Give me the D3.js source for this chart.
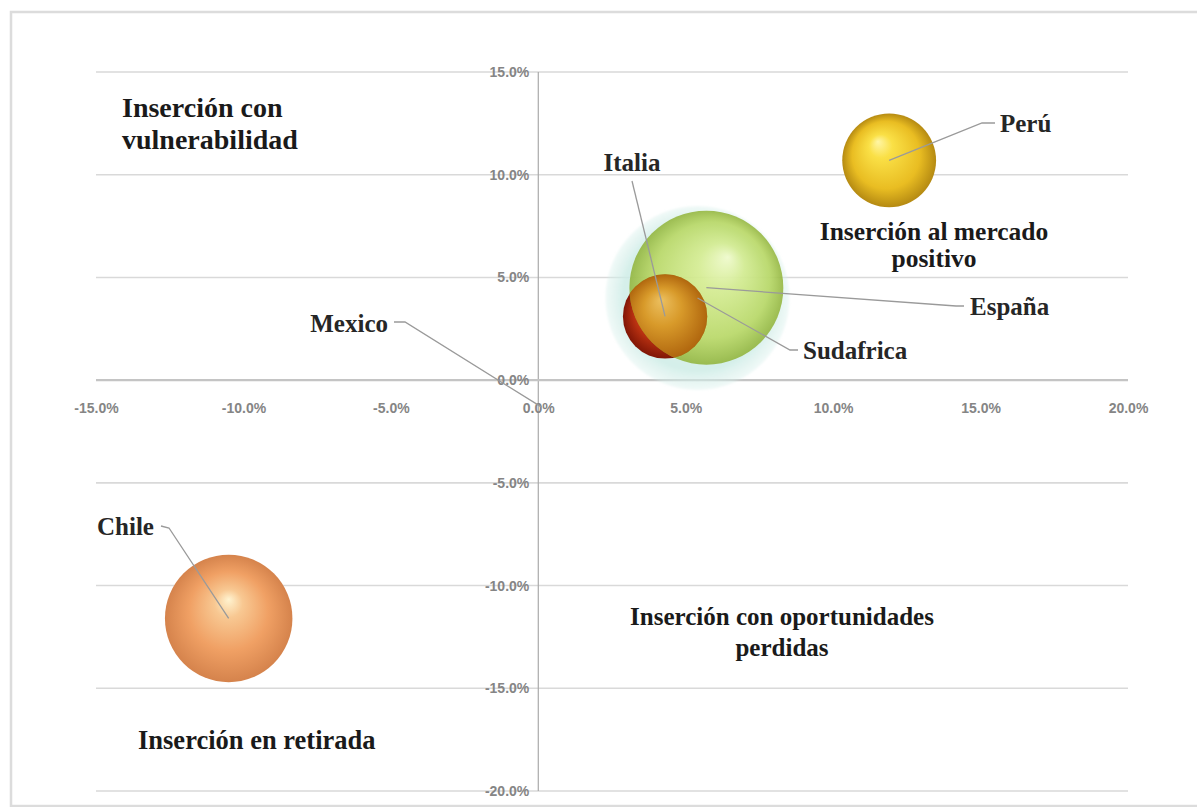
<!DOCTYPE html>
<html>
<head>
<meta charset="utf-8">
<script src="https://cdn.jsdelivr.net/npm/d3@7"></script>
<style>
  body { margin: 0; background: #ffffff; }
  svg { display: block; }
</style>
</head>
<body>
<svg id="chart" width="1197" height="807"></svg>
<script>
// ---- data ----------------------------------------------------------
const countries = ["Sudafrica", "Italia", "España", "Perú", "Chile", "Mexico"];
const xValues   = [5.4, 4.3, 5.7, 11.9, -10.5, 0.1];    // % on horizontal axis
const yValues   = [4.0, 3.1, 4.5, 10.7, -11.6, -1.3];   // % on vertical axis
const sizes     = [100, 21, 70, 26, 48, 0];             // bubble size
const xTicks = [-15, -10, -5, 0, 5, 10, 15, 20];
const yTicks = [15, 10, 5, 0, -5, -10, -15, -20];
const quadrantTitles = [
  ["Inserción con", "vulnerabilidad"],
  ["Inserción al mercado", "positivo"],
  ["Inserción con oportunidades", "perdidas"],
  ["Inserción en retirada"]
];

// ---- layout & style --------------------------------------------------
const W = 1197, H = 807;
const svg = d3.select("#chart");
const x = d3.scaleLinear().domain([-15, 20]).range([96, 1128]);
const y = d3.scaleLinear().domain([-20, 15]).range([791, 72]);
const r = d3.scaleSqrt().domain([0, 100]).range([0, 92]);

const serif = "'Liberation Serif', 'Times New Roman', serif";
const sans = "'Liberation Sans', Arial, sans-serif";

// sphere shading per country
const shading = {
  "Sudafrica": { fx: 0.5, fy: 0.45, stops: [[0, "#e4f5f1", 0.75], [0.8, "#cdece6", 0.85], [1, "#d6efea", 0.35]] },
  "Italia":    { fx: 0.42, fy: 0.32, stops: [[0, "#f07838", 1], [0.55, "#d43e16", 1], [1, "#801606", 1]] },
  "España":    { fx: 0.64, fy: 0.3, stops: [[0, "#f4fcc8", 0.8], [0.3, "#d2ea78", 0.72], [0.75, "#b2d244", 0.72], [1, "#8aae2a", 0.8]] },
  "Perú":      { fx: 0.38, fy: 0.3, stops: [[0, "#fff6a6", 1], [0.25, "#fae046", 1], [0.72, "#e9bd22", 1], [1, "#b58a12", 1]] },
  "Chile":     { fx: 0.5, fy: 0.35, stops: [[0, "#fff3d0", 1], [0.22, "#f8c892", 1], [0.62, "#f0a064", 1], [1, "#d5834c", 1]] }
};
// where the red Italia bubble shows through the translucent green one
const overlapShade = { fx: 0.45, fy: 0.3, stops: [[0, "#ecc060", 1], [0.45, "#d89a2a", 1], [1, "#b0660e", 1]] };

// label placement (pixels), leader start and elbow
const labelLayout = {
  "Perú":      { tx: 1000, ty: 132, anchor: "start",  lx: 995, ly: 123, ex: 982, ey: 123 },
  "Italia":    { tx: 632,  ty: 171, anchor: "middle", lx: 632, ly: 181, ex: 632, ey: 181 },
  "España":    { tx: 970,  ty: 315, anchor: "start",  lx: 964, ly: 306, ex: 956, ey: 306 },
  "Sudafrica": { tx: 803,  ty: 359, anchor: "start",  lx: 798, ly: 350, ex: 790, ey: 350 },
  "Mexico":    { tx: 388,  ty: 332, anchor: "end",    lx: 394, ly: 322, ex: 405, ey: 322 },
  "Chile":     { tx: 97,   ty: 535, anchor: "start",  lx: 161, ly: 526, ex: 169, ey: 528 }
};

const titleLayout = [
  { x: 122, y: 117, anchor: "start",  size: 28, lh: 32 },
  { x: 934, y: 240, anchor: "middle", size: 25.5, lh: 27 },
  { x: 782, y: 625, anchor: "middle", size: 25, lh: 31 },
  { x: 138, y: 749, anchor: "start",  size: 26.5, lh: 30 }
];

// ---- frame -----------------------------------------------------------
svg.append("rect").attr("width", W).attr("height", H).attr("fill", "#ffffff");
svg.append("rect")
  .attr("x", 11).attr("y", 12).attr("width", 1200).attr("height", 794)
  .attr("fill", "none").attr("stroke", "#dcdcdc").attr("stroke-width", 2.5);

// ---- grid ------------------------------------------------------------
svg.append("g").selectAll("line").data(yTicks.filter(t => t !== 0)).join("line")
  .attr("x1", x(-15)).attr("x2", x(20))
  .attr("y1", d => y(d)).attr("y2", d => y(d))
  .attr("stroke", "#d9d9d9").attr("stroke-width", 1.6);

// vertical axis line
svg.append("line")
  .attr("x1", x(0)).attr("x2", x(0)).attr("y1", y(15)).attr("y2", y(-20))
  .attr("stroke", "#a9a9a9").attr("stroke-width", 1.2);

// horizontal axis line at 0%
svg.append("line")
  .attr("x1", x(-15)).attr("x2", x(20)).attr("y1", y(0)).attr("y2", y(0))
  .attr("stroke", "#c4c4c4").attr("stroke-width", 2.4);

// ---- tick labels -----------------------------------------------------
const fmt = d => d.toFixed(1) + "%";
const xAxis = d3.axisBottom(x).tickValues(xTicks).tickFormat(fmt).tickSize(0).tickPadding(0);
const gx = svg.append("g").attr("transform", `translate(0,${y(0) + 28})`).call(xAxis);
gx.select(".domain").remove();
gx.selectAll("text").attr("dy", "0.32em");

const yAxis = d3.axisLeft(y).tickValues(yTicks).tickFormat(fmt).tickSize(0).tickPadding(0);
const gy = svg.append("g").attr("transform", `translate(${x(0) - 9},0)`).call(yAxis);
gy.select(".domain").remove();

svg.selectAll(".tick text")
  .attr("font-family", sans).attr("font-size", 14).attr("font-weight", "bold")
  .attr("fill", "#858585");

// ---- bubbles ---------------------------------------------------------
const data = countries.map((c, i) => ({ name: c, x: xValues[i], y: yValues[i], size: sizes[i] }));
const byName = Object.fromEntries(data.map(d => [d.name, d]));
const defs = svg.append("defs");
function addGradient(id, s) {
  const g = defs.append("radialGradient").attr("id", id)
    .attr("cx", 0.5).attr("cy", 0.5).attr("r", 0.5)
    .attr("fx", s.fx).attr("fy", s.fy);
  s.stops.forEach(([o, c, op]) => g.append("stop").attr("offset", o).attr("stop-color", c).attr("stop-opacity", op));
  return id;
}
Object.entries(shading).forEach(([name, s], i) => { s.id = addGradient("sphere" + i, s); });
addGradient("overlap", overlapShade);
defs.append("filter").attr("id", "soft").append("feGaussianBlur").attr("stdDeviation", 1.2);

const bubbles = svg.append("g");
bubbles.selectAll("circle")
  .data(data.filter(d => d.size > 0 && shading[d.name]))
  .join("circle")
  .attr("cx", d => x(d.x)).attr("cy", d => y(d.y)).attr("r", d => r(d.size))
  .attr("fill", d => `url(#${shading[d.name].id})`)
  .attr("filter", d => d.name === "Sudafrica" ? "url(#soft)" : null);

// Italia seen through España: clip Italia's disc to España's disc
const esp = byName["España"], ita = byName["Italia"];
defs.append("clipPath").attr("id", "espClip").append("circle")
  .attr("cx", x(esp.x)).attr("cy", y(esp.y)).attr("r", r(esp.size));
bubbles.append("circle")
  .attr("cx", x(ita.x)).attr("cy", y(ita.y)).attr("r", r(ita.size))
  .attr("fill", "url(#overlap)").attr("clip-path", "url(#espClip)");

// ---- leader lines & labels ------------------------------------------
svg.append("g").selectAll("polyline").data(data).join("polyline")
  .attr("points", d => {
    const L = labelLayout[d.name];
    return [[L.lx, L.ly], [L.ex, L.ey], [x(d.x), y(d.y)]].map(p => p.join(",")).join(" ");
  })
  .attr("fill", "none").attr("stroke", "#9a9a9a").attr("stroke-width", 1.3);

svg.append("g").selectAll("text").data(data).join("text")
  .attr("x", d => labelLayout[d.name].tx).attr("y", d => labelLayout[d.name].ty)
  .attr("text-anchor", d => labelLayout[d.name].anchor)
  .attr("font-family", serif).attr("font-weight", "bold").attr("font-size", 25)
  .attr("fill", "#262626")
  .text(d => d.name);

// ---- quadrant titles -------------------------------------------------
quadrantTitles.forEach((lines, i) => {
  const L = titleLayout[i];
  const t = svg.append("text")
    .attr("font-family", serif).attr("font-weight", "bold").attr("font-size", L.size)
    .attr("fill", "#1a1a1a").attr("text-anchor", L.anchor);
  lines.forEach((s, j) => t.append("tspan").attr("x", L.x).attr("y", L.y + j * L.lh).text(s));
});
</script>
</body>
</html>
